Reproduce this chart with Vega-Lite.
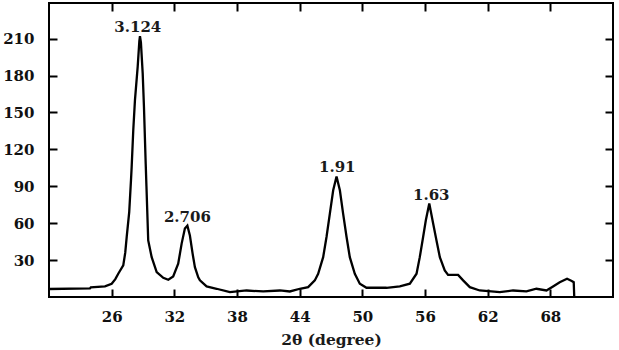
{
  "$schema": "https://vega.github.io/schema/vega-lite/v6.json",
  "width": 564,
  "height": 294,
  "autosize": "none",
  "padding": {"left": 49, "top": 3, "right": 6, "bottom": 53},
  "background": "white",
  "config": {
    "view": {"stroke": "black", "strokeWidth": 2},
    "axis": {
      "grid": false,
      "domain": false,
      "tickColor": "black",
      "tickWidth": 2,
      "tickSize": -8,
      "labelFont": "DejaVu Serif",
      "labelFontSize": 15,
      "labelFontWeight": "bold",
      "labelColor": "#111",
      "titleFont": "DejaVu Serif",
      "titleFontSize": 15.5,
      "titleFontWeight": "bold",
      "titleColor": "#1a1a1a"
    }
  },
  "datasets": {
    "curve": [
      {"two_theta": 20.00, "intensity": 6.5},
      {"two_theta": 23.92, "intensity": 7.0},
      {"two_theta": 24.0, "intensity": 7.8},
      {"two_theta": 25.36, "intensity": 8.6},
      {"two_theta": 26.00, "intensity": 10.8},
      {"two_theta": 26.35, "intensity": 14.5},
      {"two_theta": 26.63, "intensity": 18.9},
      {"two_theta": 27.11, "intensity": 25.7},
      {"two_theta": 27.30, "intensity": 36},
      {"two_theta": 27.44, "intensity": 48.8},
      {"two_theta": 27.68, "intensity": 69},
      {"two_theta": 27.85, "intensity": 95},
      {"two_theta": 27.91, "intensity": 105},
      {"two_theta": 28.07, "intensity": 136},
      {"two_theta": 28.23, "intensity": 160},
      {"two_theta": 28.49, "intensity": 187},
      {"two_theta": 28.65, "intensity": 208},
      {"two_theta": 28.71, "intensity": 212},
      {"two_theta": 28.80, "intensity": 207},
      {"two_theta": 28.97, "intensity": 182},
      {"two_theta": 29.09, "intensity": 155},
      {"two_theta": 29.26, "intensity": 108},
      {"two_theta": 29.33, "intensity": 90},
      {"two_theta": 29.50, "intensity": 46},
      {"two_theta": 29.83, "intensity": 32.4},
      {"two_theta": 30.31, "intensity": 20.2},
      {"two_theta": 30.94, "intensity": 15.6},
      {"two_theta": 31.42, "intensity": 14},
      {"two_theta": 31.89, "intensity": 16.7},
      {"two_theta": 32.37, "intensity": 27},
      {"two_theta": 32.70, "intensity": 43.4},
      {"two_theta": 33.01, "intensity": 55.6},
      {"two_theta": 33.25, "intensity": 58},
      {"two_theta": 33.49, "intensity": 50},
      {"two_theta": 33.75, "intensity": 35.2},
      {"two_theta": 33.97, "intensity": 24.3},
      {"two_theta": 34.29, "intensity": 16},
      {"two_theta": 34.45, "intensity": 13.5},
      {"two_theta": 35.09, "intensity": 8.6},
      {"two_theta": 36.05, "intensity": 6.7},
      {"two_theta": 37.32, "intensity": 3.9},
      {"two_theta": 38.92, "intensity": 5.3},
      {"two_theta": 40.51, "intensity": 4.5},
      {"two_theta": 42.11, "intensity": 5.3},
      {"two_theta": 43.06, "intensity": 4.5},
      {"two_theta": 44.02, "intensity": 6.7},
      {"two_theta": 44.81, "intensity": 8},
      {"two_theta": 45.45, "intensity": 13.5},
      {"two_theta": 45.77, "intensity": 18.9},
      {"two_theta": 46.25, "intensity": 32.4},
      {"two_theta": 46.57, "intensity": 48.8},
      {"two_theta": 46.89, "intensity": 67.8},
      {"two_theta": 47.21, "intensity": 86.8},
      {"two_theta": 47.53, "intensity": 98},
      {"two_theta": 47.85, "intensity": 86.8},
      {"two_theta": 48.16, "intensity": 67.8},
      {"two_theta": 48.49, "intensity": 48.8},
      {"two_theta": 48.80, "intensity": 32.4},
      {"two_theta": 49.28, "intensity": 18.9},
      {"two_theta": 49.76, "intensity": 10.8},
      {"two_theta": 50.40, "intensity": 7.5},
      {"two_theta": 52.32, "intensity": 7.5},
      {"two_theta": 53.59, "intensity": 8.6},
      {"two_theta": 54.55, "intensity": 10.8},
      {"two_theta": 55.19, "intensity": 18.9},
      {"two_theta": 55.50, "intensity": 32.4},
      {"two_theta": 55.82, "intensity": 48.8},
      {"two_theta": 56.08, "intensity": 62.4},
      {"two_theta": 56.41, "intensity": 76},
      {"two_theta": 56.78, "intensity": 59.7},
      {"two_theta": 57.10, "intensity": 46},
      {"two_theta": 57.42, "intensity": 32.4},
      {"two_theta": 57.89, "intensity": 21.6},
      {"two_theta": 58.21, "intensity": 18},
      {"two_theta": 59.17, "intensity": 18},
      {"two_theta": 59.65, "intensity": 13.5},
      {"two_theta": 60.29, "intensity": 8},
      {"two_theta": 61.24, "intensity": 5.3},
      {"two_theta": 63.16, "intensity": 3.9},
      {"two_theta": 64.43, "intensity": 5.3},
      {"two_theta": 65.71, "intensity": 4.6},
      {"two_theta": 66.67, "intensity": 6.7},
      {"two_theta": 67.63, "intensity": 5.3},
      {"two_theta": 68.26, "intensity": 8.6},
      {"two_theta": 68.90, "intensity": 12},
      {"two_theta": 69.60, "intensity": 14.8},
      {"two_theta": 70.05, "intensity": 13},
      {"two_theta": 70.24, "intensity": 12},
      {"two_theta": 70.29, "intensity": 0}
    ],
    "peaks": [
      {"two_theta": 28.5, "intensity": 212, "d": "3.124"},
      {"two_theta": 33.25, "intensity": 58, "d": "2.706"},
      {"two_theta": 47.6, "intensity": 98, "d": "1.91"},
      {"two_theta": 56.6, "intensity": 76, "d": "1.63"}
    ]
  },
  "layer": [
    {
      "data": {"name": "curve"},
      "mark": {"type": "line", "color": "black", "strokeWidth": 2.3, "strokeJoin": "miter"},
      "encoding": {
        "x": {
          "field": "two_theta", "type": "quantitative",
          "scale": {"domain": [20, 74], "nice": false, "zero": false},
          "axis": {"orient": "bottom", "values": [26, 32, 38, 44, 50, 56, 62, 68], "labelPadding": 20, "title": "2θ (degree)", "titlePadding": 8}
        },
        "y": {
          "field": "intensity", "type": "quantitative",
          "scale": {"domain": [0, 239], "nice": false},
          "axis": {"orient": "left", "values": [30, 60, 90, 120, 150, 180, 210], "labelPadding": 23, "title": null}
        }
      }
    },
    {
      "data": {"name": "peaks"},
      "mark": {"type": "text", "font": "DejaVu Serif", "fontSize": 15, "fontWeight": "bold", "color": "#1a1a1a", "baseline": "alphabetic", "align": "center", "dy": -4},
      "encoding": {
        "x": {
          "field": "two_theta", "type": "quantitative",
          "scale": {"domain": [20, 74], "nice": false, "zero": false},
          "axis": {"orient": "top", "values": [26, 32, 38, 44, 50, 56, 62, 68], "labels": false, "title": null}
        },
        "y": {
          "field": "intensity", "type": "quantitative",
          "scale": {"domain": [0, 239], "nice": false},
          "axis": {"orient": "right", "values": [30, 60, 90, 120, 150, 180, 210], "labels": false, "title": null}
        },
        "text": {"field": "d"}
      }
    }
  ],
  "resolve": {"axis": {"x": "independent", "y": "independent"}}
}
